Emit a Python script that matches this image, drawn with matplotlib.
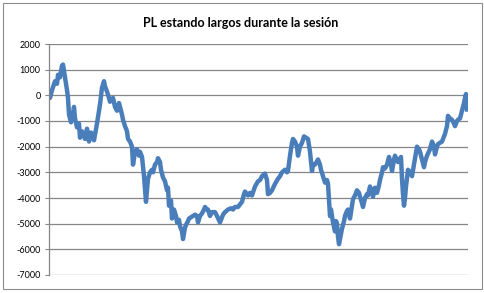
import matplotlib.pyplot as plt
from matplotlib.patches import Rectangle

# ----------------------------
# Datos
# ----------------------------
sesion = [0, 1, 3, 6, 8, 9, 11, 13, 14, 16, 18, 19, 20, 22, 24, 25, 26, 28, 30, 31,
          33, 34, 36, 38, 40, 42, 43, 45, 48, 51, 53, 55, 56, 58, 60, 61, 63, 64, 66, 68,
          70, 71, 73, 74, 76, 78, 79, 81, 83, 84, 86, 88, 90, 91, 93, 95, 97, 99, 101, 103,
          104, 106, 108, 109, 111, 112, 114, 116, 118, 119, 120, 122, 123, 125, 127, 128, 130, 131, 133, 134,
          136, 137, 139, 140, 142, 144, 146, 148, 149, 151, 153, 155, 156, 158, 159, 161, 163, 166, 168, 171,
          174, 176, 179, 182, 184, 186, 189, 191, 193, 195, 196, 198, 199, 201, 203, 206, 209, 211, 213, 216,
          218, 219, 221, 223, 226, 229, 231, 233, 236, 238, 239, 241, 243, 244, 246, 248, 249, 251, 253, 255,
          257, 259, 261, 263, 264, 266, 269, 271, 272, 274, 276, 278, 279, 280, 281, 282, 284, 286, 287, 288,
          289, 290, 292, 293, 295, 296, 298, 299, 301, 303, 304, 306, 308, 310, 311, 313, 314, 316, 318, 319,
          321, 323, 324, 326, 328, 330, 331, 333, 334, 336, 338, 340, 342, 343, 345, 346, 348, 349, 352, 353,
          354, 355, 356, 357, 359, 361, 363, 365, 368, 370, 371, 373, 375, 376, 378, 381, 383, 385, 386, 388,
          389, 391, 393, 395, 396, 398, 399, 401, 403, 405, 406, 408, 409, 411, 413, 415, 416, 417, 418]

pl = [-50, -100, 200, 550, 450, 800, 700, 1150, 1200, 700, 200, -100, -750, -1050, -700, -450, -900, -1250, -1100, -1650,
      -1400, -1500, -1700, -1300, -1800, -1450, -1500, -1750, -1100, -350, 300, 550, 350, 150, -100, -250, -150, -100, -450, -600,
      -300, -450, -750, -950, -1200, -1400, -1700, -1800, -2000, -2700, -2200, -2100, -2350, -2200, -2400, -3150, -4150, -3250, -3000, -2900,
      -3000, -2700, -2600, -2450, -2600, -2900, -3200, -3350, -3700, -3600, -4300, -4100, -4800, -4450, -4700, -4950, -4850, -5100, -5300, -5600,
      -5150, -5050, -4900, -4800, -4750, -4700, -4650, -4700, -4950, -4700, -4600, -4450, -4350, -4450, -4450, -4700, -4550, -4550, -4700, -4950,
      -4650, -4550, -4450, -4400, -4450, -4350, -4350, -4250, -4150, -3850, -3750, -3850, -3900, -3800, -3900, -3550, -3350, -3300, -3150, -3050,
      -3300, -3850, -3800, -3700, -3450, -3250, -3150, -3000, -2900, -3000, -2950, -2350, -1850, -1700, -1800, -2000, -2350, -2000, -1850, -1600,
      -1650, -1700, -2200, -2950, -2700, -2700, -2500, -2700, -2900, -3150, -3400, -3300, -3450, -4050, -4700, -4450, -4950, -5300, -4900, -5000,
      -5500, -5800, -5400, -5200, -4900, -4700, -4500, -4450, -4800, -4300, -4050, -3900, -3700, -3800, -3950, -4200, -4350, -4000, -3850, -3900,
      -3550, -3800, -3950, -3600, -3800, -3500, -3300, -3000, -2800, -2850, -2700, -2400, -2700, -2950, -2500, -2350, -2550, -2600, -2400, -3250,
      -3850, -4300, -4000, -3550, -2900, -3000, -3150, -2700, -2000, -2100, -2200, -2500, -2800, -2600, -2350, -2100, -1800, -2000, -2300, -2000,
      -1900, -1850, -1800, -1600, -1500, -1200, -800, -900, -950, -1100, -1200, -1000, -950, -900, -600, -300, -100, 50, -550]

titulo = "PL estando largos durante la sesión"
y_ticks = list(range(-7000, 2001, 1000))

# ----------------------------
# Grafica
# ----------------------------
plt.rcParams['font.family'] = ['Lato', 'DejaVu Sans']

fig = plt.figure(figsize=(4.85, 2.93), dpi=100)
fig.patches.append(Rectangle((0.006, 0.012), 0.988, 0.978, transform=fig.transFigure,
                             fill=False, edgecolor='#8c8c8c', linewidth=0.8))

ax = fig.add_axes([49 / 485, 1 - 275 / 293, (468 - 49) / 485, (275 - 44) / 293])
ax.plot(sesion, pl, color='#4a7ebb', linewidth=3.2, solid_joinstyle='round')

ax.set_xlim(0, 419)
ax.set_ylim(-7000, 2000)
ax.set_yticks(y_ticks)
ax.set_yticklabels([str(v) for v in y_ticks], fontsize=6.5)
ax.set_xticks([])
ax.yaxis.grid(True, color='#868686', linewidth=0.9)
ax.set_axisbelow(True)
ax.tick_params(axis='y', length=3, width=0.8, color='#868686', pad=3)
for s in ['top', 'right', 'bottom']:
    ax.spines[s].set_visible(False)
ax.spines['left'].set_color('#868686')
ax.spines['left'].set_linewidth(0.9)

fig.text(241 / 485, 1 - 23 / 293, titulo, ha='center', va='center',
         fontsize=9, fontweight='bold')

plt.savefig("out.png", dpi=100)
plt.close()
